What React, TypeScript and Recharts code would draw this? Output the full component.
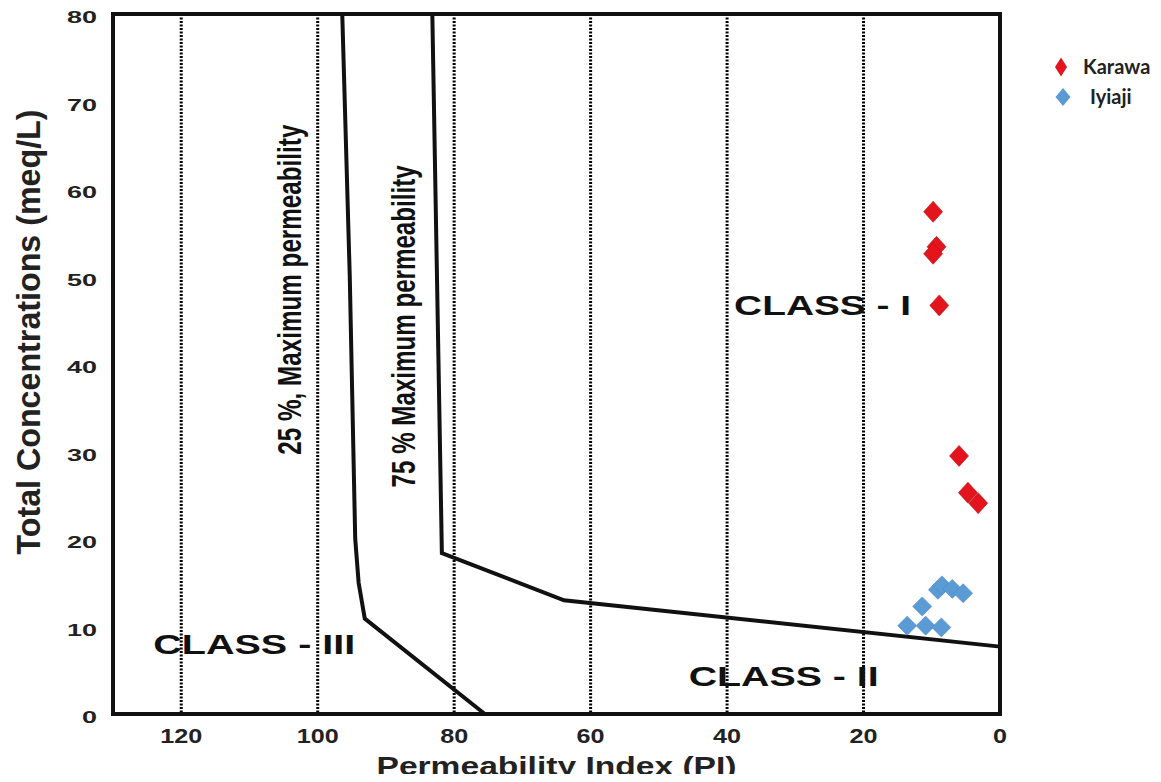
import React from "react";
import {
  ScatterChart,
  Scatter,
  XAxis,
  YAxis,
  CartesianGrid,
  ReferenceArea,
  ReferenceDot,
  Legend,
} from "recharts";

// axis ticks
const xTicks = [0, 20, 40, 60, 80, 100, 120];
const yTicks = [0, 10, 20, 30, 40, 50, 60, 70, 80];

// samples (PI, total concentration)
const karawa = [
  { x: 9.8, y: 57.4 },
  { x: 9.3, y: 53.4 },
  { x: 9.8, y: 52.6 },
  { x: 8.9, y: 46.7 },
  { x: 6.0, y: 29.5 },
  { x: 4.7, y: 25.3 },
  { x: 3.2, y: 24.1 },
];

const iyiaji = [
  { x: 13.6, y: 10.1 },
  { x: 11.4, y: 12.3 },
  { x: 10.9, y: 10.1 },
  { x: 8.6, y: 9.9 },
  { x: 9.1, y: 14.2 },
  { x: 8.5, y: 14.7 },
  { x: 7.0, y: 14.3 },
  { x: 5.4, y: 13.8 },
];

// class boundaries
const line25 = [
  { x: 96.4, y: 80 },
  { x: 95.3, y: 50 },
  { x: 94.5, y: 20 },
  { x: 94.0, y: 15 },
  { x: 93.1, y: 10.9 },
  { x: 75.5, y: 0 },
];

const line75 = [
  { x: 83.2, y: 80 },
  { x: 81.8, y: 18.4 },
  { x: 63.9, y: 13.0 },
  { x: 0, y: 7.7 },
];

// text placed in data units
const classNotes = [
  { text: "CLASS - I", x: 26.0, y: 46.7 },
  { text: "CLASS - III", x: 109.3, y: 7.9 },
  { text: "CLASS - II", x: 31.7, y: 4.3 },
];
const lineNotes = [
  { text: "25 %, Maximum permeability", x: 104.1, y: 48.5 },
  { text: "75 % Maximum permeability", x: 87.4, y: 44.3 },
];

const RED = "#e3141c";
const BLUE = "#5b9bd5";
const ARIAL = "'Liberation Sans', Arial, sans-serif";
const NARROW = "'Liberation Sans Narrow', 'Liberation Sans', Arial, sans-serif";

const classLen: Record<string, number> = {
  "CLASS - I": 177,
  "CLASS - III": 202,
  "CLASS - II": 190,
};
const noteLen: Record<string, number> = {
  "25 %, Maximum permeability": 330,
  "75 % Maximum permeability": 322,
};

const diamond = (cx: number, cy: number, hw: number, hh: number) =>
  `${cx},${cy - hh} ${cx + hw},${cy} ${cx},${cy + hh} ${cx - hw},${cy}`;

const RedMark = (p: any) => (
  <polygon points={diamond(p.cx, p.cy, 9.5, 10.5)} fill={RED} stroke="#b5121a" strokeWidth={0.6} />
);
const BlueMark = (p: any) => (
  <polygon points={diamond(p.cx, p.cy, 9.5, 9.5)} fill={BLUE} stroke="#4a88c2" strokeWidth={0.6} />
);
const NoMark = () => <g />;

const XTick = ({ x, y, payload }: any) => {
  const s = String(payload.value);
  return (
    <text
      x={x}
      y={y + 29}
      textAnchor="middle"
      fontFamily={ARIAL}
      fontWeight="bold"
      fontSize={20}
      fill="#222"
      textLength={14 * s.length}
      lengthAdjust="spacingAndGlyphs"
    >
      {s}
    </text>
  );
};

const YTick = ({ x, y, payload }: any) => {
  const s = String(payload.value);
  return (
    <text
      x={x - 16}
      y={y + 9}
      textAnchor="end"
      fontFamily={ARIAL}
      fontWeight="bold"
      fontSize={17}
      fill="#222"
      textLength={15 * s.length}
      lengthAdjust="spacingAndGlyphs"
    >
      {s}
    </text>
  );
};

const classLabel = (text: string) => (p: any) => {
  const vb = p.viewBox;
  const cx = vb.x + vb.width / 2;
  const cy = vb.y + vb.height / 2;
  return (
    <text
      x={cx}
      y={cy}
      textAnchor="middle"
      dominantBaseline="central"
      fontFamily={ARIAL}
      fontWeight="bold"
      fontSize={28}
      fill="#111"
      textLength={classLen[text]}
      lengthAdjust="spacingAndGlyphs"
    >
      {text}
    </text>
  );
};

const noteLabel = (text: string) => (p: any) => {
  const vb = p.viewBox;
  const cx = vb.x + vb.width / 2;
  const cy = vb.y + vb.height / 2;
  return (
    <text
      x={cx}
      y={cy}
      transform={`rotate(-90, ${cx}, ${cy})`}
      textAnchor="middle"
      dominantBaseline="central"
      fontFamily={NARROW}
      fontWeight="bold"
      fontSize={33}
      fill="#111"
      textLength={noteLen[text]}
      lengthAdjust="spacingAndGlyphs"
    >
      {text}
    </text>
  );
};

const LegendBox = () => (
  <svg width={110} height={60} style={{ display: "block", overflow: "visible" }}>
    <polygon points={diamond(10, 9, 6, 9.5)} fill={RED} />
    <text x={32} y={16} fontFamily="Lato, 'Open Sans', sans-serif" fontWeight="bold" fontSize={20} fill="#222">
      Karawa
    </text>
    <polygon points={diamond(12, 39, 7.5, 9)} fill={BLUE} />
    <text x={39} y={46} fontFamily="Lato, 'Open Sans', sans-serif" fontWeight="bold" fontSize={20} fill="#222">
      Iyiaji
    </text>
  </svg>
);

export default function App() {
  return (
    <div style={{ margin: -8 }}>
      <ScatterChart
        width={1161}
        height={782}
        margin={{ top: 14, right: 161, bottom: 38, left: 53 }}
      >
        <CartesianGrid
          horizontal={false}
          stroke="#000"
          strokeWidth={3}
          strokeDasharray="2 1.5"
        />
        <XAxis
          type="number"
          dataKey="x"
          domain={[0, 130]}
          reversed
          ticks={xTicks}
          axisLine={false}
          tickLine={false}
          tickSize={0}
          tickMargin={0}
          height={30}
          tick={<XTick />}
          label={{
            content: (p: any) => {
              const vb = p.viewBox;
              return (
                <text
                  x={vb.x + vb.width / 2}
                  y={vb.y + 61}
                  textAnchor="middle"
                  fontFamily={ARIAL}
                  fontWeight="bold"
                  fontSize={25}
                  fill="#222"
                  textLength={360}
                  lengthAdjust="spacingAndGlyphs"
                >
                  Permeability Index (PI)
                </text>
              );
            },
          }}
        />
        <YAxis
          type="number"
          dataKey="y"
          domain={[0, 80]}
          ticks={yTicks}
          axisLine={false}
          tickLine={false}
          tickSize={0}
          tickMargin={0}
          width={60}
          tick={<YTick />}
          label={{
            content: (p: any) => {
              const vb = p.viewBox;
              const cx = vb.x - 25;
              const cy = vb.y + vb.height / 2 - 32;
              return (
                <text
                  x={cx}
                  y={cy}
                  transform={`rotate(-90, ${cx}, ${cy})`}
                  textAnchor="middle"
                  dominantBaseline="central"
                  fontFamily={NARROW}
                  fontWeight="bold"
                  fontSize={34}
                  fill="#222"
                  textLength={445}
                  lengthAdjust="spacingAndGlyphs"
                >
                  Total Concentrations (meq/L)
                </text>
              );
            },
          }}
        />
        <ReferenceArea
          x1={0}
          x2={130}
          y1={0}
          y2={80}
          fill="none"
          stroke="#111"
          strokeWidth={4}
          ifOverflow="visible"
        />
        <Scatter
          data={line25}
          line={{ stroke: "#111", strokeWidth: 4, strokeLinejoin: "miter" }}
          shape={NoMark}
          legendType="none"
          isAnimationActive={false}
        />
        <Scatter
          data={line75}
          line={{ stroke: "#111", strokeWidth: 4, strokeLinejoin: "miter" }}
          shape={NoMark}
          legendType="none"
          isAnimationActive={false}
        />
        {classNotes.map((n) => (
          <ReferenceDot
            key={n.text}
            x={n.x}
            y={n.y}
            r={1}
            fill="none"
            stroke="none"
            label={classLabel(n.text)}
          />
        ))}
        {lineNotes.map((n) => (
          <ReferenceDot
            key={n.text}
            x={n.x}
            y={n.y}
            r={1}
            fill="none"
            stroke="none"
            label={noteLabel(n.text)}
          />
        ))}
        <Scatter
          name="Karawa"
          data={karawa}
          fill={RED}
          shape={RedMark}
          isAnimationActive={false}
        />
        <Scatter
          name="Iyiaji"
          data={iyiaji}
          fill={BLUE}
          shape={BlueMark}
          isAnimationActive={false}
        />
        <Legend
          layout="vertical"
          align="center"
          verticalAlign="middle"
          content={LegendBox}
          wrapperStyle={{ top: 58, left: 1051, width: 110, height: 60 }}
        />
      </ScatterChart>
    </div>
  );
}
